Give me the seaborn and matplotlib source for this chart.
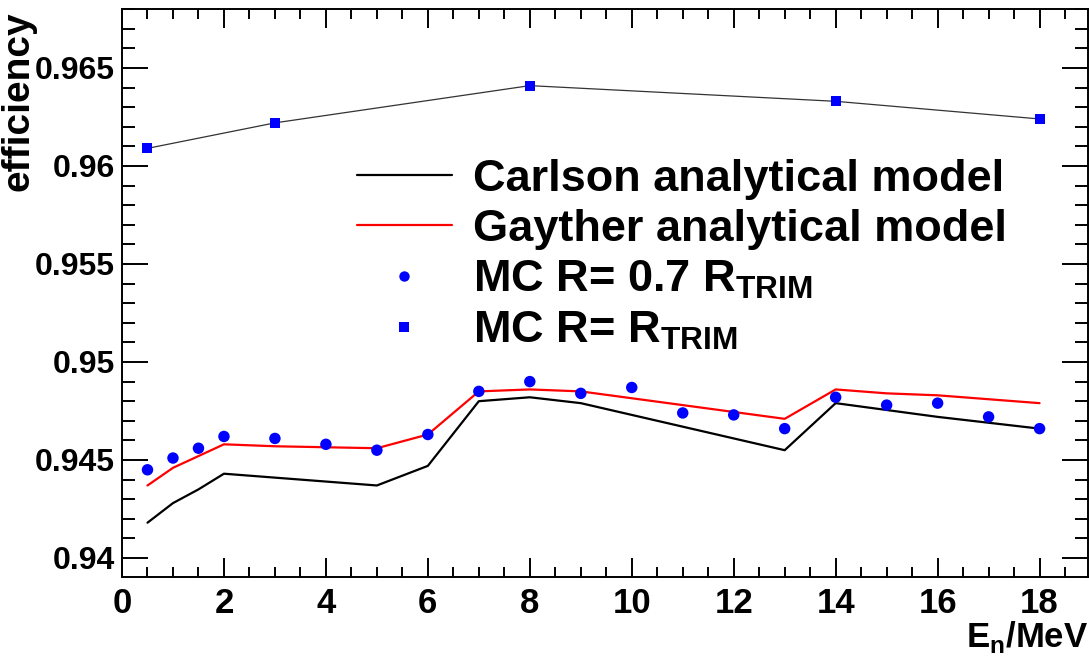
import matplotlib
matplotlib.use("Agg")
import matplotlib.pyplot as plt
import seaborn as sns
import pandas as pd
from matplotlib.lines import Line2D
from matplotlib.ticker import MultipleLocator, FuncFormatter

# ---- data ----
energy = [0.5, 1, 1.5, 2, 3, 4, 5, 6, 7, 8, 9, 10, 11, 12, 13, 14, 15, 16, 17, 18]
carlson = [0.9418, 0.9428, 0.9435, 0.9443, 0.9441, 0.9439, 0.9437, 0.9447, 0.9480, 0.9482,
           0.9479, 0.9473, 0.9467, 0.9461, 0.9455, 0.9479, 0.94755, 0.9472, 0.9469, 0.9466]
gayther = [0.9437, 0.9446, 0.9452, 0.9458, 0.9457, 0.94565, 0.9456, 0.9463, 0.9485, 0.9486,
           0.9485, 0.94815, 0.9478, 0.94745, 0.9471, 0.9486, 0.9484, 0.9483, 0.9481, 0.9479]
mc_07 = [0.9445, 0.9451, 0.9456, 0.9462, 0.9461, 0.9458, 0.9455, 0.9463, 0.9485, 0.9490,
         0.9484, 0.9487, 0.9474, 0.9473, 0.9466, 0.9482, 0.9478, 0.9479, 0.9472, 0.9466]
energy_trim = [0.5, 3, 8, 14, 18]
mc_trim = [0.9609, 0.9622, 0.9641, 0.9633, 0.9624]

labels = ["Carlson analytical model", "Gayther analytical model",
          r"MC R= 0.7 R$_{\mathrm{TRIM}}$", r"MC R= R$_{\mathrm{TRIM}}$"]

df = pd.DataFrame({"E": energy, "carlson": carlson, "gayther": gayther, "mc07": mc_07})
dft = pd.DataFrame({"E": energy_trim, "mc": mc_trim})

sns.set_theme(style="ticks")
plt.rcParams["font.family"] = ["Liberation Sans", "DejaVu Sans"]
plt.rcParams["font.weight"] = "bold"
plt.rcParams["mathtext.fontset"] = "custom"
plt.rcParams["mathtext.rm"] = "Liberation Sans"
plt.rcParams["mathtext.bf"] = "Liberation Sans:bold"
for k in ["text.color", "axes.labelcolor", "xtick.color", "ytick.color", "axes.edgecolor"]:
    plt.rcParams[k] = "black"

fig = plt.figure(figsize=(10.89, 6.57), dpi=100)
ax = fig.add_axes([122 / 1089, 1 - 577 / 657, (1088 - 122) / 1089, (577 - 9) / 657])

sns.lineplot(data=df, x="E", y="carlson", ax=ax, color="black", lw=1.6, legend=False)
sns.lineplot(data=df, x="E", y="gayther", ax=ax, color="#ff0000", lw=1.6, legend=False)
sns.scatterplot(data=df, x="E", y="mc07", ax=ax, color="#0000ff", marker="o", s=68,
                edgecolor="none", legend=False, zorder=4)
sns.lineplot(data=dft, x="E", y="mc", ax=ax, color="#333333", lw=0.9, legend=False)
sns.scatterplot(data=dft, x="E", y="mc", ax=ax, color="#0000ff", marker="s", s=52,
                edgecolor="none", legend=False, zorder=4)

ax.set_xlim(0, 18.95)
ax.set_ylim(0.93903, 0.96801)
ax.xaxis.set_major_locator(MultipleLocator(2))
ax.xaxis.set_minor_locator(MultipleLocator(0.5))
ax.yaxis.set_major_locator(MultipleLocator(0.005))
ax.yaxis.set_minor_locator(MultipleLocator(0.001))
ax.yaxis.set_major_formatter(FuncFormatter(lambda v, p: f"{v:g}"))

ax.tick_params(which="both", direction="in", top=True, right=True, width=1.4, color="black")
ax.tick_params(axis="y", which="major", length=19, pad=5, labelsize=23)
ax.tick_params(axis="y", which="minor", length=9.5)
ax.tick_params(axis="x", which="major", length=13.5, pad=7, labelsize=25)
ax.tick_params(axis="x", which="minor", length=7)
for lab in ax.get_xticklabels() + ax.get_yticklabels():
    lab.set_fontweight("bold")
for sp in ax.spines.values():
    sp.set_linewidth(1.4)
    sp.set_color("black")

ax.set_xlabel(r"E$_{\mathbf{n}}$/MeV", fontsize=25, fontweight="bold", loc="right")
ax.xaxis.set_label_coords(1.0, -0.074)
ax.set_ylabel("efficiency", fontsize=28, fontweight="bold", loc="top")
ax.yaxis.set_label_coords(-0.088, 0.995)

handles = [Line2D([], [], color="black", lw=1.6),
           Line2D([], [], color="#ff0000", lw=1.6),
           Line2D([], [], color="#0000ff", marker="o", ls="none", markersize=7.5, markeredgewidth=0),
           Line2D([], [], color="#0000ff", marker="s", ls="none", markersize=7.2, markeredgewidth=0)]
leg = ax.legend(handles, labels, loc="upper left", bbox_to_anchor=(0.243, 0.736),
                frameon=False, fontsize=32.5, handlelength=2.1, handletextpad=0.48,
                labelspacing=0.2, borderpad=0, borderaxespad=0)
for t in leg.get_texts():
    t.set_fontweight("bold")

fig.savefig("out.png", dpi=100)
